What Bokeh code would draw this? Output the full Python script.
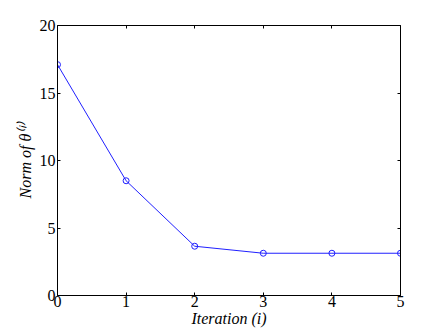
from bokeh.plotting import figure
from bokeh.models import Range1d, LinearAxis, FixedTicker
from bokeh.embed import file_html
from bokeh.resources import INLINE

iterations = [0, 1, 2, 3, 4, 5]
norm_theta = [17.1, 8.5, 3.65, 3.13, 3.13, 3.13]
x_ticks = [0, 1, 2, 3, 4, 5]
y_ticks = [0, 5, 10, 15, 20]

W, H = 443, 332
p = figure(width=W, height=H, output_backend="svg", toolbar_location=None,
           x_range=Range1d(0, 5), y_range=Range1d(0, 20),
           min_border_left=57, min_border_right=W - 400, min_border_top=25, min_border_bottom=H - 295,
           x_axis_label="Iteration (i)", y_axis_label="Norm of θ⁽ⁱ⁾")
p.grid.visible = False
p.outline_line_color = None
p.background_fill_color = "white"
p.border_fill_color = "white"

p.line(iterations, norm_theta, line_color="#2020ff", line_width=1)
p.scatter(iterations, norm_theta, marker="circle", size=6, fill_color=None,
          line_color="#2020ff", line_width=1)

font = "Liberation Serif"
for ax in [p.xaxis[0], p.yaxis[0]]:
    ax.axis_line_color = "black"
    ax.major_tick_line_color = "black"
    ax.major_tick_in = 3
    ax.major_tick_out = 0
    ax.minor_tick_line_color = None
    ax.major_label_text_font = font
    ax.major_label_text_font_size = "16px"
    ax.major_label_text_color = "black"
    ax.axis_label_text_font = font
    ax.axis_label_text_font_size = "16px"
    ax.axis_label_text_font_style = "italic"
    ax.axis_label_text_color = "black"
p.xaxis[0].ticker = FixedTicker(ticks=x_ticks)
p.yaxis[0].ticker = FixedTicker(ticks=y_ticks)
p.xaxis[0].major_label_standoff = 0
p.xaxis[0].axis_label_standoff = 0
p.yaxis[0].major_label_standoff = 2
p.yaxis[0].axis_label_standoff = 3

top = LinearAxis(ticker=FixedTicker(ticks=x_ticks), major_label_overrides={t: "" for t in x_ticks},
                 major_tick_in=3, major_tick_out=0, minor_tick_line_color=None,
                 axis_line_color="black", major_tick_line_color="black")
right = LinearAxis(ticker=FixedTicker(ticks=y_ticks), major_label_overrides={t: "" for t in y_ticks},
                   major_tick_in=3, major_tick_out=0, minor_tick_line_color=None,
                   axis_line_color="black", major_tick_line_color="black")
p.add_layout(top, "above")
p.add_layout(right, "right")

open("out.html", "w").write(file_html(p, INLINE))
